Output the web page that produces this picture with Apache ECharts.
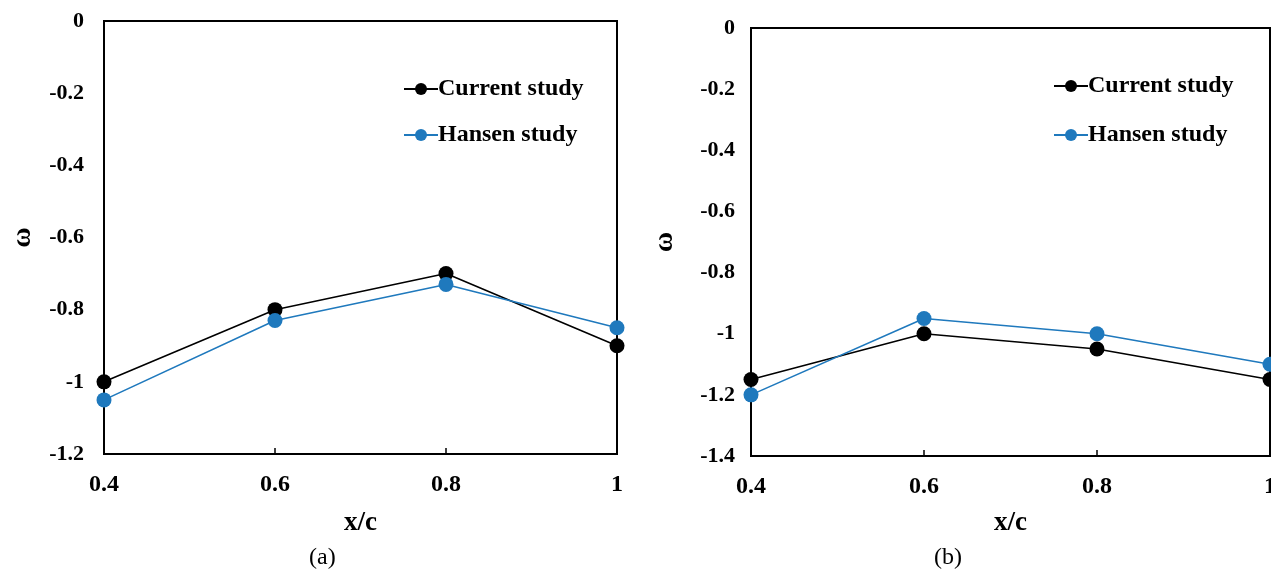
<!DOCTYPE html>
<html>
<head>
<meta charset="utf-8">
<script src="https://cdn.jsdelivr.net/npm/echarts@6/dist/echarts.min.js"></script>
<style>
html, body { margin: 0; padding: 0; background: #fff; }
#main { width: 1271px; height: 569px; }
</style>
</head>
<body>
<div id="main"></div>
<script>
// x/c stations (same for both panels)
var xPos = [0.4, 0.6, 0.8, 1];
// panel (a)
var currentA = [-1.0, -0.8, -0.7, -0.9];
var hansenA = [-1.05, -0.83, -0.73, -0.85];
// panel (b)
var currentB = [-1.15, -1.0, -1.05, -1.15];
var hansenB = [-1.2, -0.95, -1.0, -1.1];

var FONT = 'Liberation Serif';
var BLUE = '#1f79bd';

function pairs(ys) {
    var out = [];
    for (var i = 0; i < xPos.length; i++) {
        out.push([xPos[i], ys[i]]);
    }
    return out;
}

function xAx(idx, gap) {
    return {
        type: 'value',
        gridIndex: idx,
        min: 0.4,
        max: 1,
        interval: 0.2,
        name: 'x/c',
        nameLocation: 'middle',
        nameGap: gap,
        nameTextStyle: { fontFamily: FONT, fontWeight: 'bold', fontSize: 27, color: '#000' },
        axisLine: { show: true, onZero: false, lineStyle: { color: '#000', width: 2 } },
        axisTick: { show: true, inside: true, length: 6, lineStyle: { color: '#000', width: 1.5 } },
        axisLabel: { fontFamily: FONT, fontWeight: 'bold', fontSize: 24, color: '#000', margin: 19 },
        splitLine: { show: false }
    };
}

function yAx(idx, min, gap, margin) {
    return {
        type: 'value',
        gridIndex: idx,
        min: min,
        max: 0,
        interval: 0.2,
        name: 'ω',
        nameLocation: 'middle',
        nameGap: gap,
        nameTextStyle: { fontFamily: FONT, fontWeight: 'bold', fontSize: 28, color: '#000' },
        axisLine: { show: true, onZero: false, lineStyle: { color: '#000', width: 2 } },
        axisTick: { show: false },
        axisLabel: { fontFamily: FONT, fontWeight: 'bold', fontSize: 22, color: '#000', margin: margin },
        splitLine: { show: false }
    };
}

function line(name, data, color, idx) {
    return {
        name: name,
        type: 'line',
        xAxisIndex: idx,
        yAxisIndex: idx,
        data: pairs(data),
        symbol: 'circle',
        symbolSize: 15,
        itemStyle: { color: color },
        lineStyle: { color: color, width: 1.6 },
        animation: false
    };
}

var legendText = { fontFamily: FONT, fontWeight: 'bold', fontSize: 24, color: '#000', padding: [0, 0, 0, -5] };

var chart = echarts.init(document.getElementById('main'));
var option = {
    animation: false,
    backgroundColor: '#fff',
    title: [
        { text: '(a)', left: 304, top: 541, textStyle: { fontFamily: FONT, fontWeight: 'normal', fontSize: 24, color: '#000' } },
        { text: '(b)', left: 929, top: 541, textStyle: { fontFamily: FONT, fontWeight: 'normal', fontSize: 24, color: '#000' } }
    ],
    legend: [
        {
            left: 398, top: 72, orient: 'vertical', itemGap: 22, itemWidth: 34, itemHeight: 15,
            data: ['Current study', 'Hansen study'],
            textStyle: legendText
        },
        {
            left: 1048, top: 69, orient: 'vertical', itemGap: 25, itemWidth: 34, itemHeight: 15,
            data: ['Current study', 'Hansen study'],
            textStyle: legendText
        }
    ],
    grid: [
        { left: 104, top: 21, width: 513, height: 433, show: true, borderColor: '#000', borderWidth: 2, backgroundColor: 'transparent', outerBoundsMode: 'none' },
        { left: 751, top: 28, width: 519, height: 428, show: true, borderColor: '#000', borderWidth: 2, backgroundColor: 'transparent', outerBoundsMode: 'none' }
    ],
    xAxis: [xAx(0, 56), xAx(1, 54)],
    yAxis: [yAx(0, -1.2, 67, 20), yAx(1, -1.4, 72, 16)],
    series: [
        line('Current study', currentA, '#000', 0),
        line('Hansen study', hansenA, BLUE, 0),
        line('Current study', currentB, '#000', 1),
        line('Hansen study', hansenB, BLUE, 1)
    ]
};
chart.setOption(option);
</script>
</body>
</html>
